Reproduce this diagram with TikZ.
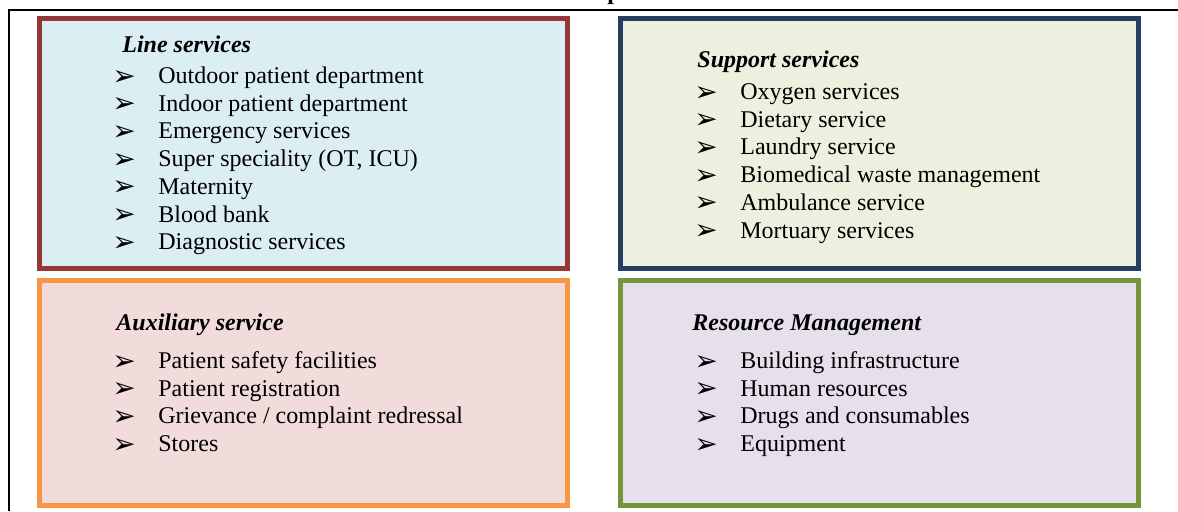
\documentclass[tikz,border=0pt]{standalone}
\usepackage{fontspec}
\usepackage{xcolor}
\usepackage{tikz}
\usetikzlibrary{positioning}

\setmainfont{Liberation Serif}
\newfontfamily\bulletfont{DejaVu Sans}

\definecolor{lineborder}{HTML}{953735}
\definecolor{linefill}{HTML}{DBEEF4}
\definecolor{supportborder}{HTML}{243F60}
\definecolor{supportfill}{HTML}{EBF1DE}
\definecolor{auxborder}{HTML}{F79646}
\definecolor{auxfill}{HTML}{F2DCDB}
\definecolor{resourceborder}{HTML}{77933C}
\definecolor{resourcefill}{HTML}{E5E0EC}

% list marker
\newcommand{\pointer}{\makebox[23pt][l]{\smash{\raisebox{-0.8pt}{\bulletfont\fontsize{14}{14}\selectfont ➢}}}}

\begin{document}
\begin{tikzpicture}[
  x=0.5pt, y=-0.5pt,
  panel/.style={rectangle, line width=2.5pt, minimum height=125pt, inner sep=0pt},
  heading/.style={anchor=base west, inner sep=0pt, font=\fontsize{12}{14}\selectfont\bfseries\itshape},
  entry/.style={anchor=base west, inner sep=0pt, font=\fontsize{12}{14}\selectfont}
]
\useasboundingbox (0,0) rectangle (1178,511);

% Frame
\draw [line width=1.2pt] (9,511) -- (9,10) -- (1178,10);
\node (title) [anchor=base west, inner sep=0pt, font=\fontsize{12}{14}\selectfont\bfseries] at (607,-0.5) {p};

% Panels
\node (line) [panel, draw=lineborder, fill=linefill, minimum width=264pt] at (303.5,143) {};
\node (support) [panel, draw=supportborder, fill=supportfill, minimum width=259pt, right=24pt of line] {};
\node (aux) [panel, draw=auxborder, fill=auxfill, minimum width=264pt, minimum height=112.5pt, below=3.5pt of line] {};
\node (resource) [panel, draw=resourceborder, fill=resourcefill, minimum width=259pt, minimum height=112.5pt, below=3.5pt of support] {};

% Headings
\node (line-title) [heading] at ([shift={(85,37)}]line.north west) {Line services};
\node (support-title) [heading] at ([shift={(79,52)}]support.north west) {Support services};
\node (aux-title) [heading] at ([shift={(79,53)}]aux.north west) {Auxiliary service};
\node (resource-title) [heading] at ([shift={(74,53)}]resource.north west) {Resource Management};

% Items
\foreach \txt [count=\i from 0] in {Outdoor patient department, Indoor patient department,
    Emergency services, {Super speciality (OT, ICU)}, Maternity, Blood bank, Diagnostic services}
  \node (line-\i) [entry] at ([shift={(75,{68+27.7*\i})}]line.north west) {\pointer\txt};

\foreach \txt [count=\i from 0] in {Oxygen services, Dietary service, Laundry service,
    Biomedical waste management, Ambulance service, Mortuary services}
  \node (support-\i) [entry] at ([shift={(76,{84+27.7*\i})}]support.north west) {\pointer\txt};

\foreach \txt [count=\i from 0] in {Patient safety facilities, Patient registration,
    Grievance / complaint redressal, Stores}
  \node (aux-\i) [entry] at ([shift={(75,{91+27.7*\i})}]aux.north west) {\pointer\txt};

\foreach \txt [count=\i from 0] in {Building infrastructure, Human resources,
    Drugs and consumables, Equipment}
  \node (resource-\i) [entry] at ([shift={(76,{91+27.7*\i})}]resource.north west) {\pointer\txt};

\end{tikzpicture}
\end{document}
